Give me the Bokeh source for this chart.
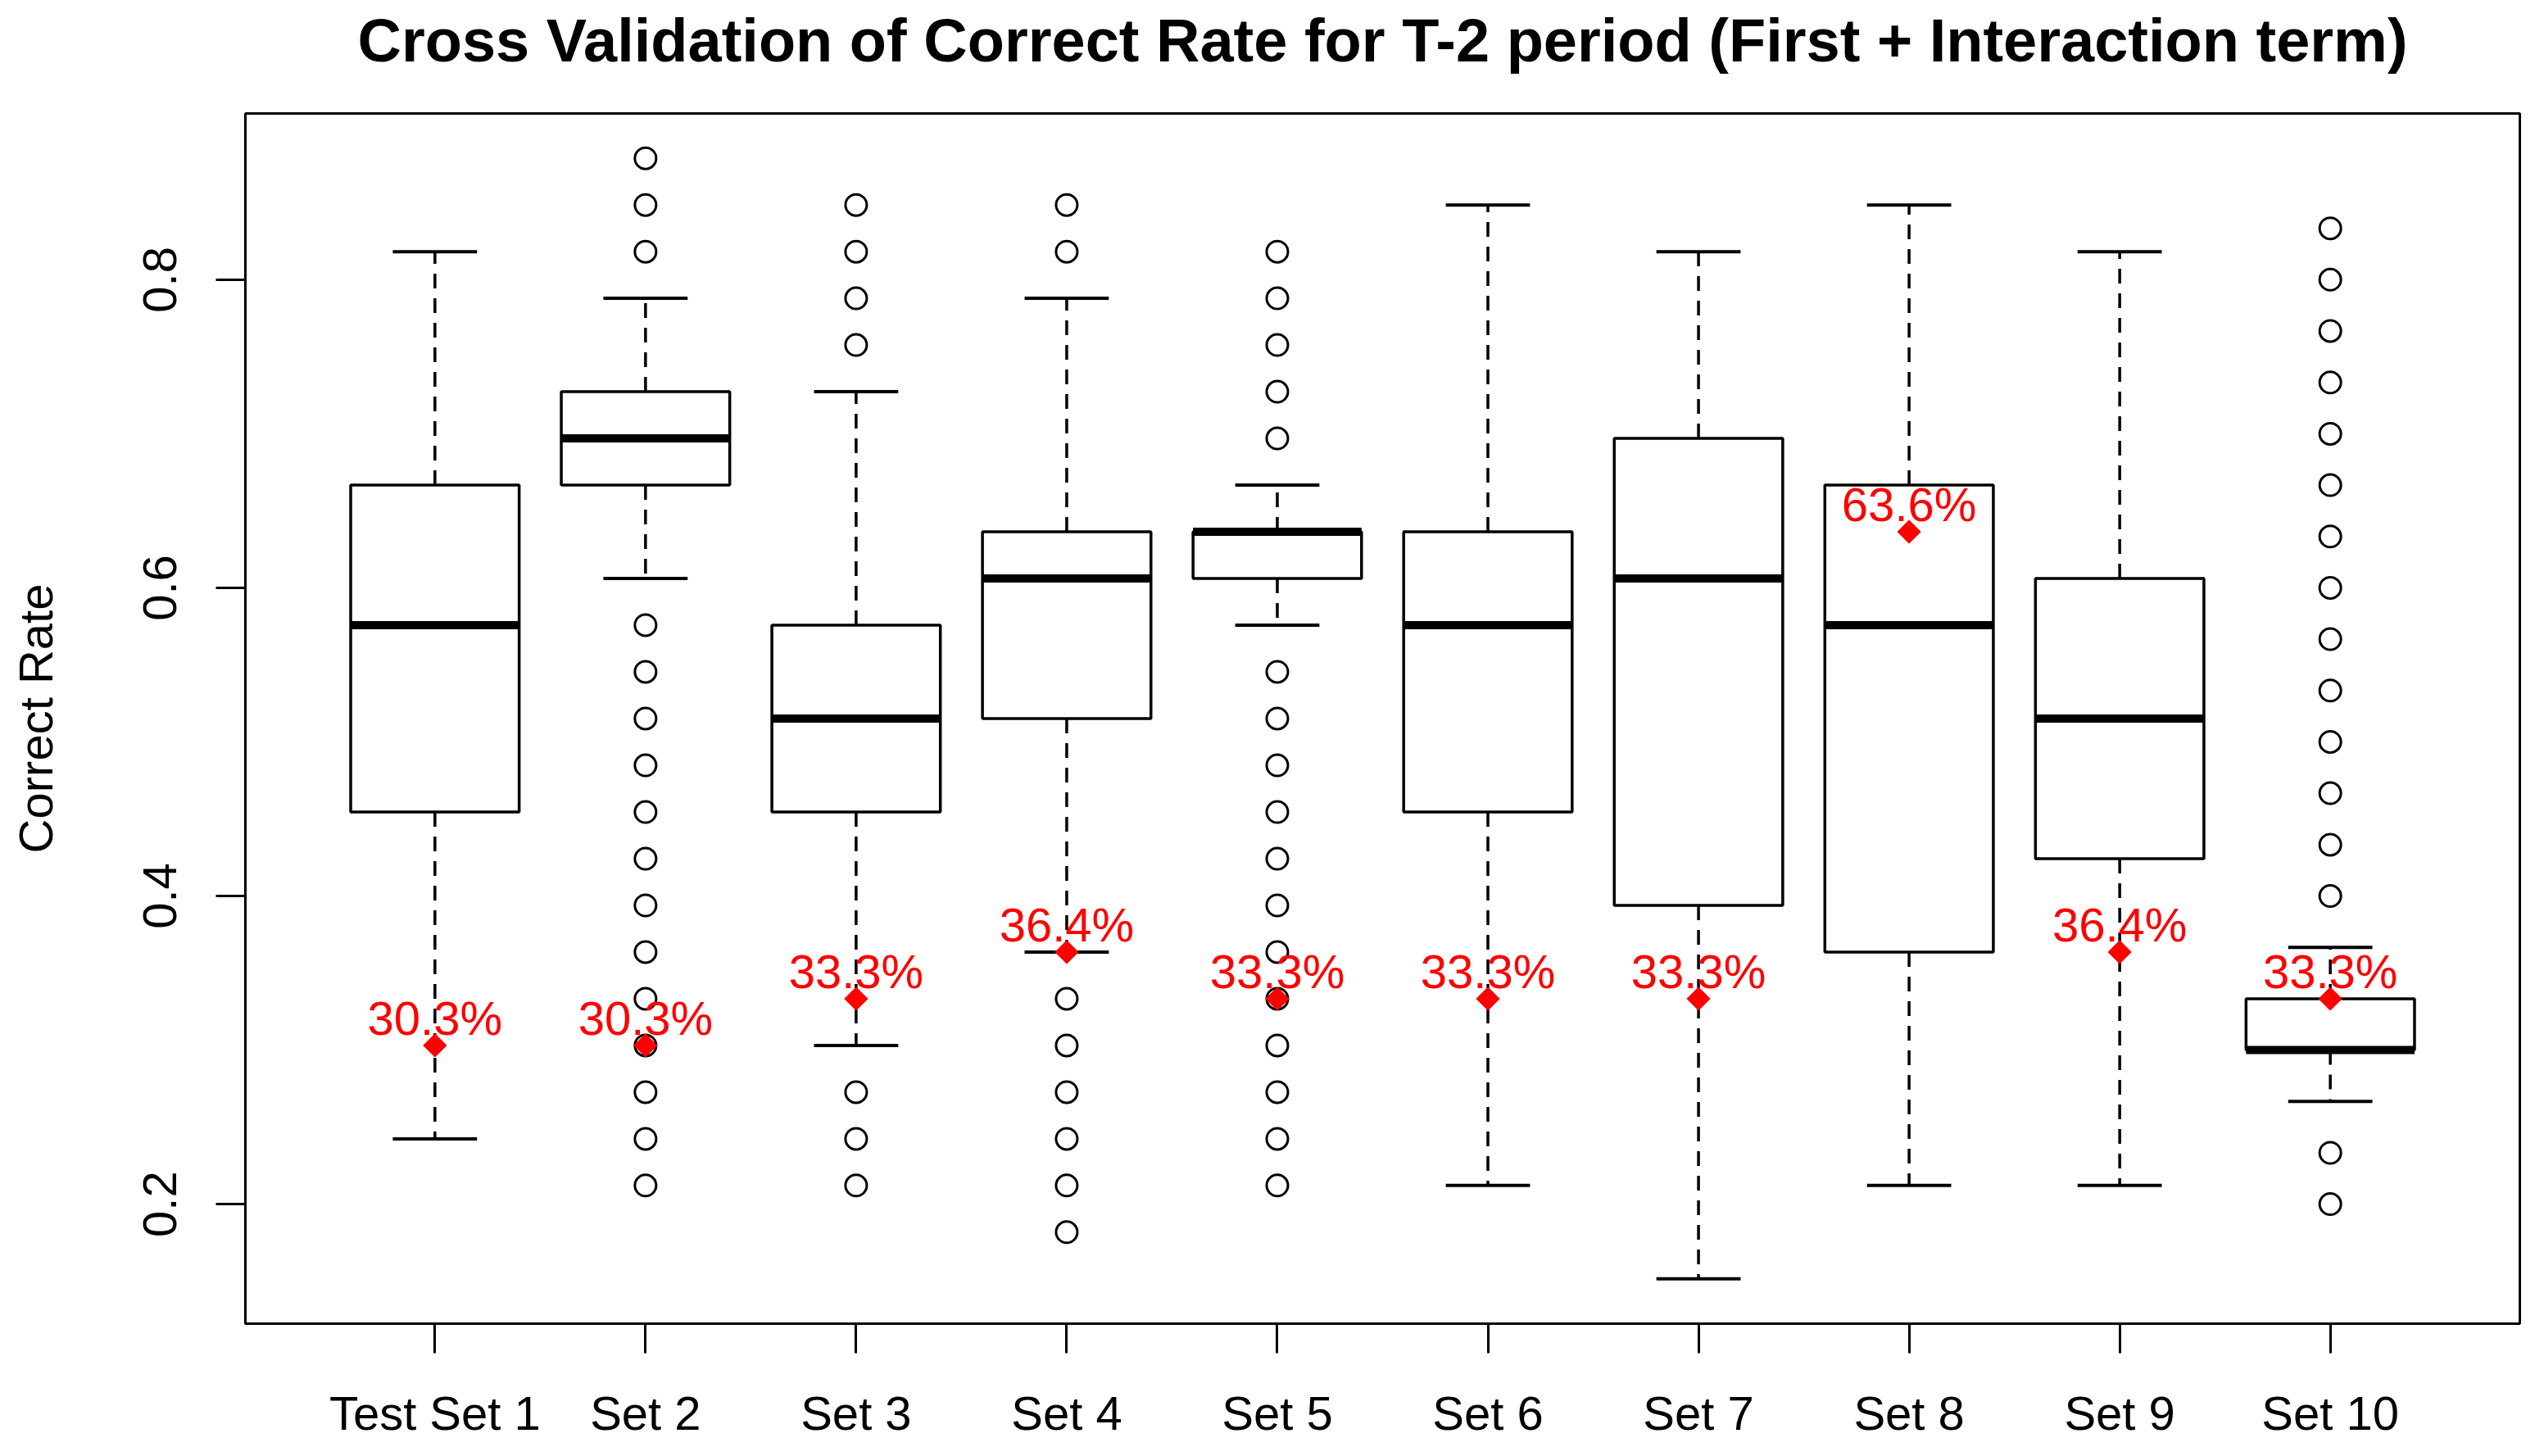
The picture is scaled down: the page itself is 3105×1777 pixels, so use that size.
import math
from bokeh.plotting import figure
from bokeh.models import Range1d, FixedTicker, ColumnDataSource, Title
from bokeh.core.properties import value
from bokeh.embed import file_html
from bokeh.resources import INLINE

# ---- data ----
title_text = "Cross Validation of Correct Rate for T-2 period (First + Interaction term)"
set_labels = ["Test Set 1", "Set 2", "Set 3", "Set 4", "Set 5",
              "Set 6", "Set 7", "Set 8", "Set 9", "Set 10"]
positions = [1, 2, 3, 4, 5, 6, 7, 8, 9, 10]
lower_whisker = [0.2424, 0.6061, 0.3030, 0.3636, 0.5758, 0.2121, 0.1515, 0.2121, 0.2121, 0.2667]
q1 = [0.4545, 0.6667, 0.4545, 0.5152, 0.6061, 0.4545, 0.3939, 0.3636, 0.4242, 0.3000]
median = [0.5758, 0.6970, 0.5152, 0.6061, 0.6364, 0.5758, 0.6061, 0.5758, 0.5152, 0.3000]
q3 = [0.6667, 0.7273, 0.5758, 0.6364, 0.6364, 0.6364, 0.6970, 0.6667, 0.6061, 0.3333]
upper_whisker = [0.8182, 0.7879, 0.7273, 0.7879, 0.6667, 0.8485, 0.8182, 0.8485, 0.8182, 0.3667]
outliers = [
    [],
    [0.8788, 0.8485, 0.8182, 0.5758, 0.5455, 0.5152, 0.4848, 0.4545, 0.4242,
     0.3939, 0.3636, 0.3333, 0.3030, 0.2727, 0.2424, 0.2121],
    [0.8485, 0.8182, 0.7879, 0.7576, 0.2727, 0.2424, 0.2121],
    [0.8485, 0.8182, 0.3333, 0.3030, 0.2727, 0.2424, 0.2121, 0.1818],
    [0.8182, 0.7879, 0.7576, 0.7273, 0.6970, 0.5455, 0.5152, 0.4848, 0.4545,
     0.4242, 0.3939, 0.3636, 0.3333, 0.3030, 0.2727, 0.2424, 0.2121],
    [],
    [],
    [],
    [],
    [0.8333, 0.8000, 0.7667, 0.7333, 0.7000, 0.6667, 0.6333, 0.6000, 0.5667,
     0.5333, 0.5000, 0.4667, 0.4333, 0.4000, 0.2333, 0.2000],
]
highlight = [0.3030, 0.3030, 0.3333, 0.3636, 0.3333, 0.3333, 0.3333, 0.6364, 0.3636, 0.3333]
highlight_labels = ["30.3%", "30.3%", "33.3%", "36.4%", "33.3%",
                    "33.3%", "33.3%", "63.6%", "36.4%", "33.3%"]
y_ticks = [0.2, 0.4, 0.6, 0.8]
y_tick_labels = ["0.2", "0.4", "0.6", "0.8"]

FONT = "Liberation Sans"
BOX_HALF = 0.4
STAPLE_HALF = 0.2

p = figure(width=3097, height=1769,
           x_range=Range1d(0.1, 10.9), y_range=Range1d(0.12242, 0.90788),
           output_backend="svg", toolbar_location=None,
           min_border_left=299, min_border_right=22,
           min_border_top=138, min_border_bottom=154,
           title=title_text)

p.background_fill_color = "white"
p.border_fill_color = "white"
p.outline_line_color = "black"
p.outline_line_width = 3
p.xgrid.visible = False
p.ygrid.visible = False

p.title.align = "center"
p.title.vertical_align = "bottom"
p.title.text_font = FONT
p.title.text_font_size = "74px"
p.title.text_font_style = "bold"
p.title.text_color = "black"
p.title.standoff = 10

# blank spacer between the title and the frame
p.add_layout(Title(text=" ", text_font_size="2px", standoff=39), "above")

# axes
xa = p.xaxis[0]
xa.ticker = FixedTicker(ticks=positions)
xa.major_label_overrides = {pos: lab for pos, lab in zip(positions, set_labels)}
ya = p.yaxis[0]
ya.ticker = FixedTicker(ticks=y_ticks)
ya.major_label_overrides = {t: lab for t, lab in zip(y_ticks, y_tick_labels)}
ya.major_label_orientation = "vertical"
ya.axis_label = "Correct Rate"
for ax in (xa, ya):
    ax.axis_line_color = None
    ax.minor_tick_line_color = None
    ax.major_tick_in = 0
    ax.major_tick_out = 36
    ax.major_tick_line_width = 3
    ax.major_tick_line_color = "black"
    ax.major_label_text_font = FONT
    ax.major_label_text_font_size = "58px"
    ax.major_label_text_color = "black"
    ax.axis_label_text_font = FONT
    ax.axis_label_text_font_size = "58px"
    ax.axis_label_text_font_style = "normal"
    ax.axis_label_text_color = "black"
xa.major_label_standoff = 40
ya.major_label_standoff = 48
ya.axis_label_standoff = 97

# whiskers
p.segment(x0=positions, y0=q3, x1=positions, y1=upper_whisker,
          line_color="black", line_width=3.5, line_dash="18 12")
p.segment(x0=positions, y0=q1, x1=positions, y1=lower_whisker,
          line_color="black", line_width=3.5, line_dash="18 12")
# staples
p.segment(x0=[x - STAPLE_HALF for x in positions], y0=upper_whisker,
          x1=[x + STAPLE_HALF for x in positions], y1=upper_whisker,
          line_color="black", line_width=4)
p.segment(x0=[x - STAPLE_HALF for x in positions], y0=lower_whisker,
          x1=[x + STAPLE_HALF for x in positions], y1=lower_whisker,
          line_color="black", line_width=4)
# boxes
p.quad(left=[x - BOX_HALF for x in positions], right=[x + BOX_HALF for x in positions],
       bottom=q1, top=q3, fill_color="white", line_color="black", line_width=3.5)
# medians
p.segment(x0=[x - BOX_HALF for x in positions], y0=median,
          x1=[x + BOX_HALF for x in positions], y1=median,
          line_color="black", line_width=10)

# outliers
ox, oy = [], []
for pos, outs in zip(positions, outliers):
    for v in outs:
        ox.append(pos)
        oy.append(v)
p.scatter(x=ox, y=oy, marker="circle", size=26, fill_color=None,
          line_color="black", line_width=3)

# highlighted points with labels
hs = ColumnDataSource(dict(x=positions, y=highlight, t=highlight_labels))
p.scatter(x="x", y="y", source=hs, marker="square", size=20, angle=math.pi / 4,
          fill_color="red", line_color="red")
p.text(x="x", y="y", text="t", source=hs, text_color="red",
       text_font=value(FONT), text_font_size="58px",
       text_align="center", text_baseline="alphabetic", y_offset=-33)

open("out.html", "w").write(file_html(p, INLINE))
